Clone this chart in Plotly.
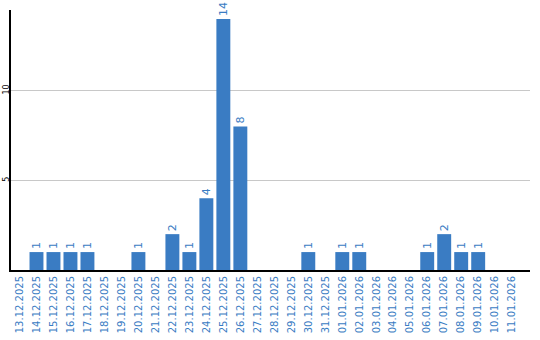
import plotly.graph_objects as go

dates = ["13.12.2025","14.12.2025","15.12.2025","16.12.2025","17.12.2025","18.12.2025",
         "19.12.2025","20.12.2025","21.12.2025","22.12.2025","23.12.2025","24.12.2025",
         "25.12.2025","26.12.2025","27.12.2025","28.12.2025","29.12.2025","30.12.2025",
         "31.12.2025","01.01.2026","02.01.2026","03.01.2026","04.01.2026","05.01.2026",
         "06.01.2026","07.01.2026","08.01.2026","09.01.2026","10.01.2026","11.01.2026"]
counts = [0,1,1,1,1,0,0,1,0,2,1,4,14,8,0,0,0,1,0,1,1,0,0,0,1,2,1,1,0,0]

blue = "#3a7cc3"
labels = [str(v) if v > 0 else "" for v in counts]

fig = go.Figure(go.Bar(
    x=list(range(len(dates))), y=counts, marker_color=blue, marker_line_width=0,
    text=labels, textposition="outside", textangle=-90, cliponaxis=False,
    textfont=dict(color=blue, size=11, family="DejaVu Sans"),
))
fig.update_layout(
    width=540, height=340, margin=dict(l=11, r=10, t=10, b=70),
    plot_bgcolor="white", paper_bgcolor="white", showlegend=False, bargap=0.18,
)
fig.update_xaxes(
    tickmode="array", tickvals=list(range(len(dates))), ticktext=dates,
    tickangle=-90, tickfont=dict(color=blue, size=10, family="DejaVu Sans"),
    range=[-0.5, 30.05], showline=True, linecolor="black", linewidth=2,
    showgrid=False, ticks="", zeroline=False, automargin=False,
)
fig.update_yaxes(
    range=[0, 14.5], tickvals=[5, 10], tickangle=-90,
    tickfont=dict(color="black", size=8, family="DejaVu Sans"),
    showline=True, linecolor="black", linewidth=2, gridcolor="#c8c8c8",
    gridwidth=1, zeroline=False, ticks="", automargin=False,
    ticklabelstandoff=-3,
)
fig.write_html("out.html")
